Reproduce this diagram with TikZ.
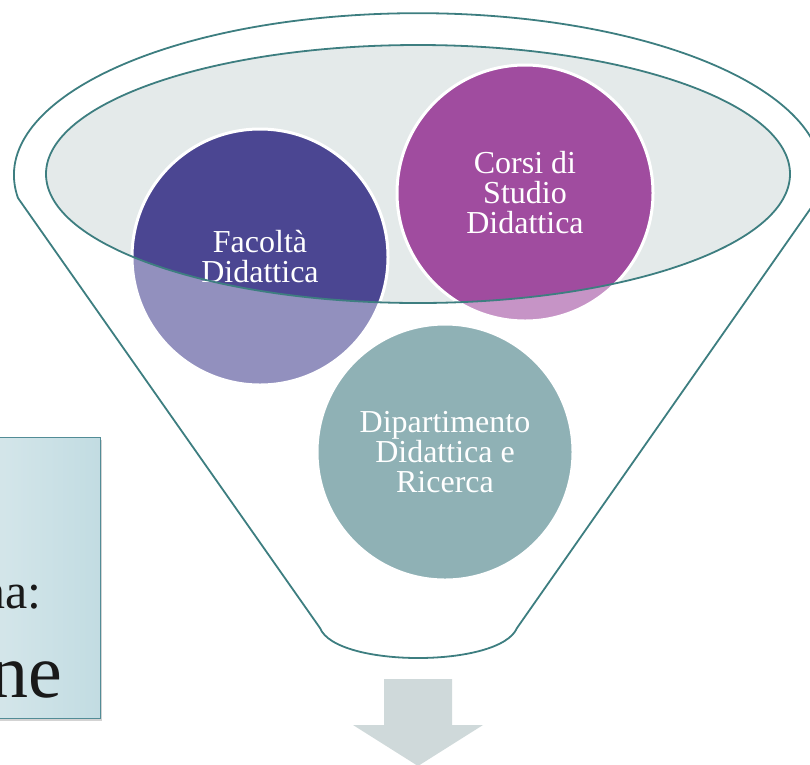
\documentclass[tikz,border=0pt]{standalone}
\usepackage{fontspec}
\setmainfont{Liberation Serif}
\usepackage{tikz}
\usetikzlibrary{shadows}
\definecolor{rimteal}{RGB}{61,126,128}
\definecolor{bowlfill}{RGB}{228,234,234}
\definecolor{facDark}{RGB}{75,70,146}
\definecolor{facLight}{RGB}{146,144,190}
\definecolor{corsiDark}{RGB}{160,76,159}
\definecolor{corsiLight}{RGB}{198,148,198}
\definecolor{deptGrey}{RGB}{143,177,181}
\definecolor{arrowGrey}{RGB}{207,217,218}
\definecolor{noteLeft}{RGB}{222,235,238}
\definecolor{noteRight}{RGB}{194,220,226}
\definecolor{noteEdge}{RGB}{82,140,150}

\begin{document}
\begin{tikzpicture}[x=1pt, y=-1pt,
    rim/.style={draw=rimteal, line width=1.8pt, line join=round},
    bubble/.style={circle, minimum size=256pt, inner sep=0pt, draw=white, line width=3pt, text=white, align=center, font=\fontsize{32}{30}\selectfont},
    bowlpart/.style={path picture={\fill[#1] (bowl) ellipse [x radius=372, y radius=129];}},
    notebox/.style={rectangle, draw=noteEdge, line width=1pt, left color=noteLeft, right color=noteRight, minimum width=160pt, minimum height=281pt, drop shadow={shadow xshift=2pt, shadow yshift=-3pt, opacity=0.35}},
    notetext/.style={anchor=base east, inner sep=0pt, text=black!90}
  ]
    \useasboundingbox (0,0) rectangle (810,764);
    \clip (0,0) rectangle (810,764);

    % Funnel outline
    \coordinate (bowl) at (418,174);
    \draw[rim] (18,198) arc [start angle=171.9, end angle=368.1, x radius=404, y radius=162]
      -- (517,628) .. controls (500,668) and (336,668) .. (320,628) -- cycle;

    % Inner bowl
    \fill[bowlfill] (bowl) ellipse [x radius=372, y radius=129];

    % Bubbles
    \node[bubble, fill=deptGrey] (dept) at (445,452) {Dipartimento\\Didattica e\\Ricerca};
    \node[bubble, fill=facLight, bowlpart=facDark] (fac) at (260,257) {Facoltà\\Didattica};
    \node[bubble, fill=corsiLight, bowlpart=corsiDark] (corsi) at (525,193) {Corsi di\\Studio\\Didattica};

    \draw[rim] (bowl) ellipse [x radius=372, y radius=129];

    % Down arrow
    \fill[arrowGrey] (384,679) -- (452,679) -- (452,725) -- (483,725) -- (418,766) -- (353,725) -- (384,725) -- cycle;

    % Side note box (cut off)
    \node[notebox] (note) at (20,577.5) {};
    \node[notetext, font=\fontsize{50}{50}\selectfont] (noteA) at (42,608) {na:};
    \node[notetext, font=\fontsize{76}{76}\selectfont] (noteB) at (62,697) {ne};
  \end{tikzpicture}
\end{document}
